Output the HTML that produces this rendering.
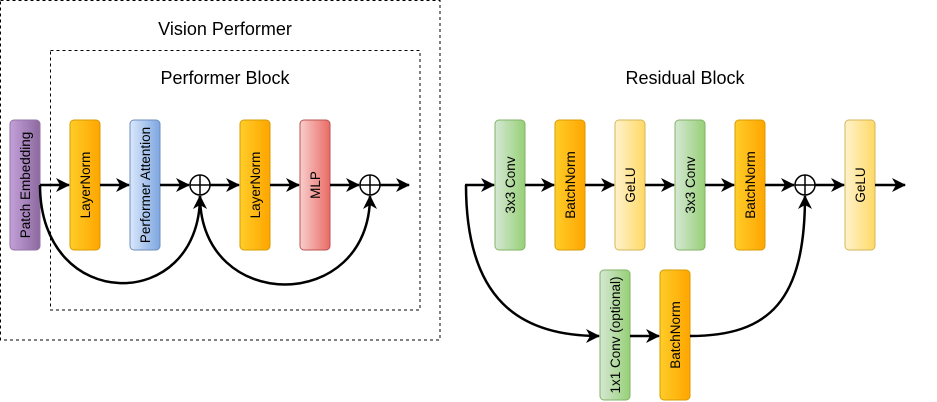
<!DOCTYPE html>
<html><head><meta charset="utf-8"><style>body{margin:0;background:#fff}svg{display:block}</style></head><body>
<svg width="937" height="402" viewBox="0 0 937 402" xmlns="http://www.w3.org/2000/svg" font-family="Liberation Sans, sans-serif">
<defs>
<linearGradient id="og" x1="0" x2="1"><stop offset="0" stop-color="#ffcd28"/><stop offset="1" stop-color="#ffa500"/></linearGradient>
<linearGradient id="yg" x1="0" x2="1"><stop offset="0" stop-color="#fff2cc"/><stop offset="1" stop-color="#ffd966"/></linearGradient>
<linearGradient id="gg" x1="0" x2="1"><stop offset="0" stop-color="#d5e8d4"/><stop offset="1" stop-color="#97d077"/></linearGradient>
<linearGradient id="bg" x1="0" x2="1"><stop offset="0" stop-color="#dae8fc"/><stop offset="1" stop-color="#7ea6e0"/></linearGradient>
<linearGradient id="rg" x1="0" x2="1"><stop offset="0" stop-color="#f8cecc"/><stop offset="1" stop-color="#ea6b66"/></linearGradient>
<linearGradient id="pg" x1="0" x2="1"><stop offset="0" stop-color="#c3a0d8"/><stop offset="1" stop-color="#8c6aa0"/></linearGradient>
<marker id="a" viewBox="-14 -8 16 16" refX="0" refY="0" markerWidth="16" markerHeight="16" orient="auto" markerUnits="userSpaceOnUse" overflow="visible"><path d="M-13,-7 L1,0 L-13,7 L-9,0 Z" fill="#000"/></marker>
</defs>
<rect x="0.5" y="0.5" width="439.5" height="339.5" fill="none" stroke="#000" stroke-dasharray="3,3"/>
<rect x="50.5" y="50.5" width="369.5" height="259.5" fill="none" stroke="#000" stroke-dasharray="3,3"/>
<g font-size="18" text-anchor="middle" fill="#000">
<text x="225" y="35">Vision Performer</text>
<text x="225" y="84">Performer Block</text>
<text x="685" y="84">Residual Block</text>
</g>
<g stroke-width="1">
<rect x="10" y="120" width="30" height="130" rx="4" fill="url(#pg)" stroke="#9673a6"/>
<rect x="70" y="120" width="30" height="130" rx="4" fill="url(#og)" stroke="#d79b00"/>
<rect x="130" y="120" width="30" height="130" rx="4" fill="url(#bg)" stroke="#6c8ebf"/>
<rect x="240" y="120" width="30" height="130" rx="4" fill="url(#og)" stroke="#d79b00"/>
<rect x="300" y="120" width="30" height="130" rx="4" fill="url(#rg)" stroke="#b85450"/>
<rect x="495" y="120" width="30" height="130" rx="4" fill="url(#gg)" stroke="#82b366"/>
<rect x="555" y="120" width="30" height="130" rx="4" fill="url(#og)" stroke="#d79b00"/>
<rect x="615" y="120" width="30" height="130" rx="4" fill="url(#yg)" stroke="#d6b656"/>
<rect x="675" y="120" width="30" height="130" rx="4" fill="url(#gg)" stroke="#82b366"/>
<rect x="735" y="120" width="30" height="130" rx="4" fill="url(#og)" stroke="#d79b00"/>
<rect x="845" y="120" width="30" height="130" rx="4" fill="url(#yg)" stroke="#d6b656"/>
<rect x="600" y="270" width="30" height="130" rx="4" fill="url(#gg)" stroke="#82b366"/>
<rect x="660" y="270" width="30" height="130" rx="4" fill="url(#og)" stroke="#d79b00"/>
</g>
<g font-size="13.5" text-anchor="middle" fill="#000">
<text transform="translate(30,185) rotate(-90)">Patch Embedding</text>
<text transform="translate(90,185) rotate(-90)">LayerNorm</text>
<text transform="translate(150,185) rotate(-90)">Performer Attention</text>
<text transform="translate(260,185) rotate(-90)">LayerNorm</text>
<text transform="translate(320,185) rotate(-90)">MLP</text>
<text transform="translate(515,185) rotate(-90)">3x3 Conv</text>
<text transform="translate(575,185) rotate(-90)">BatchNorm</text>
<text transform="translate(635,185) rotate(-90)">GeLU</text>
<text transform="translate(695,185) rotate(-90)">3x3 Conv</text>
<text transform="translate(755,185) rotate(-90)">BatchNorm</text>
<text transform="translate(865,185) rotate(-90)">GeLU</text>
<text transform="translate(620,335) rotate(-90)">1x1 Conv (optional)</text>
<text transform="translate(680,335) rotate(-90)">BatchNorm</text>
</g>
<g stroke="#000" stroke-width="2.5" fill="none">
<line x1="40" y1="185" x2="69" y2="185" marker-end="url(#a)"/>
<line x1="100" y1="185" x2="129" y2="185" marker-end="url(#a)"/>
<line x1="160" y1="185" x2="189" y2="185" marker-end="url(#a)"/>
<line x1="210" y1="185" x2="239" y2="185" marker-end="url(#a)"/>
<line x1="270" y1="185" x2="299" y2="185" marker-end="url(#a)"/>
<line x1="330" y1="185" x2="359" y2="185" marker-end="url(#a)"/>
<line x1="380" y1="185" x2="409" y2="185" marker-end="url(#a)"/>
<path d="M40,185 C40,314 200,314 200,196" marker-end="url(#a)"/>
<path d="M200,196 C200,314 370,314 370,196" marker-end="url(#a)"/>
<line x1="465" y1="185" x2="494" y2="185" marker-end="url(#a)"/>
<line x1="525" y1="185" x2="554" y2="185" marker-end="url(#a)"/>
<line x1="585" y1="185" x2="614" y2="185" marker-end="url(#a)"/>
<line x1="645" y1="185" x2="674" y2="185" marker-end="url(#a)"/>
<line x1="705" y1="185" x2="734" y2="185" marker-end="url(#a)"/>
<line x1="765" y1="185" x2="794" y2="185" marker-end="url(#a)"/>
<line x1="815" y1="185" x2="844" y2="185" marker-end="url(#a)"/>
<line x1="875" y1="185" x2="905" y2="185" marker-end="url(#a)"/>
<path d="M466,185 C466,300 520,336 599,336" marker-end="url(#a)"/>
<line x1="630" y1="336" x2="659" y2="336" marker-end="url(#a)"/>
<path d="M690,336 C770,336 805,300 805,196" marker-end="url(#a)"/>
</g>
<g stroke="#000" stroke-width="1.5" fill="#fff">
<circle cx="200" cy="185" r="10"/><path d="M190,185H210M200,175V195"/>
<circle cx="370" cy="185" r="10"/><path d="M360,185H380M370,175V195"/>
<circle cx="805" cy="185" r="10"/><path d="M795,185H815M805,175V195"/>
</g>
</svg>
</body></html>
